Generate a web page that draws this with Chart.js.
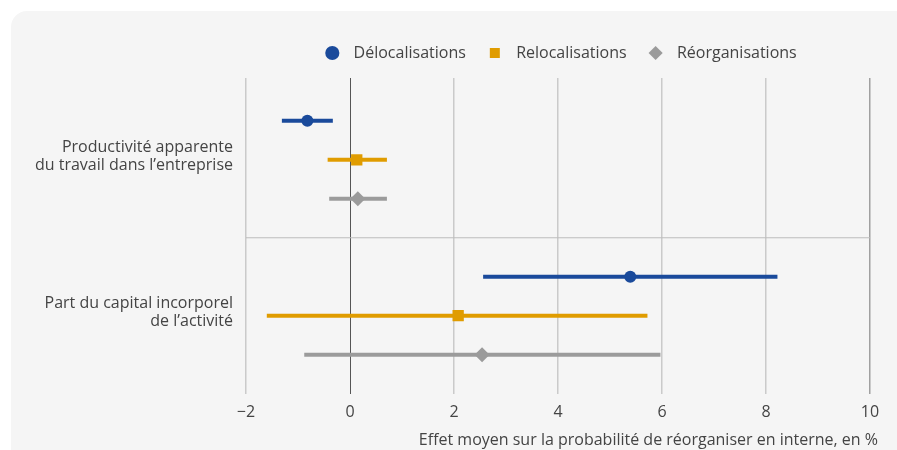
<!DOCTYPE html>
<html>
<head>
  <meta charset="utf-8" />
  <script src="https://cdn.jsdelivr.net/npm/chart.js@4.4.1/dist/chart.umd.min.js"></script>
  <style>
    html, body { margin:0; padding:0; background:#fff; overflow:hidden; }
    #panel { position:absolute; left:11px; top:11px; width:906px; height:460px; background:#f5f5f5; border-radius:16px; }
    #holder { position:absolute; left:0; top:0; width:897px; height:450px; }
  </style>
</head>
<body>
<div id="panel"></div>
<div id="holder"><canvas id="chart"></canvas></div>

<script>
// categories (y axis) and series
const categories = [
  ["Productivité apparente", "du travail dans l’entreprise"],
  ["Part du capital incorporel", "de l’activité"]
];
const seriesNames = ["Délocalisations", "Relocalisations", "Réorganisations"];

// point estimates and interval bounds, one value per category
const delocEst = [-0.82, 5.39];
const delocLow = [-1.31, 2.56];
const delocHigh = [-0.33, 8.22];

const relocEst = [0.13, 2.08];
const relocLow = [-0.43, -1.60];
const relocHigh = [0.71, 5.72];

const reorgEst = [0.15, 2.54];
const reorgLow = [-0.40, -0.88];
const reorgHigh = [0.71, 5.97];

const xTicks = [-2, 0, 2, 4, 6, 8, 10];

const TEXT = "#444";
const FONT = "'Open Sans', sans-serif";
const colors = ["#1a4a9b", "#e09c00", "#9b9b9b"];
const styles = ["circle", "rect", "rectRot"];
const radii = [6, 8, 7.5];

const est = [delocEst, relocEst, reorgEst];
const low = [delocLow, relocLow, reorgLow];
const high = [delocHigh, relocHigh, reorgHigh];

// row of a series inside a category block (blocks of 4 rows)
function rowOf(c, s) { return c * 4 + 1 + s; }

const datasets = [];
seriesNames.forEach((name, s) => {
  datasets.push({
    type: "scatter", label: name,
    data: categories.map((_, c) => ({ x: est[s][c], y: rowOf(c, s) })),
    pointStyle: styles[s], pointRadius: radii[s], pointHoverRadius: radii[s],
    backgroundColor: colors[s], borderColor: colors[s], borderWidth: 0
  });
});
seriesNames.forEach((name, s) => {
  categories.forEach((_, c) => {
    datasets.push({
      type: "line", label: "ci", showLine: true,
      data: [{ x: low[s][c], y: rowOf(c, s) }, { x: high[s][c], y: rowOf(c, s) }],
      borderColor: colors[s], borderWidth: 4, pointRadius: 0, borderCapStyle: "butt"
    });
  });
});
// separator between the two blocks
datasets.push({
  type: "line", label: "sep", showLine: true,
  data: [{ x: xTicks[0], y: 4 }, { x: xTicks[xTicks.length - 1], y: 4 }],
  borderColor: "#bdbdbd", borderWidth: 1.2, pointRadius: 0
});

function gridColor(ctx) {
  const v = ctx.tick && ctx.tick.value;
  if (v === 0) return "#555";
  if (v === 10) return "#a0a0a0";
  return "#cacaca";
}

new Chart(document.getElementById("chart"), {
  type: "scatter",
  data: { datasets },
  options: {
    responsive: true, maintainAspectRatio: false, animation: false,
    layout: { padding: { top: 21, right: 19, left: 0, bottom: 0 } },
    plugins: {
      tooltip: { enabled: false },
      legend: {
        position: "top", fullSize: false,
        labels: {
          usePointStyle: true, boxWidth: 10, boxHeight: 10, padding: 24,
          color: TEXT, font: { family: FONT, size: 16 },
          generateLabels: chart => seriesNames.map((n, s) => ({
            text: "  " + n, pointStyle: styles[s], fillStyle: colors[s],
            strokeStyle: colors[s], lineWidth: 0, datasetIndex: s, fontColor: TEXT
          }))
        }
      }
    },
    scales: {
      x: {
        type: "linear", min: -2, max: 10 + 8 / 52,
        afterBuildTicks: sc => { sc.ticks = xTicks.map(v => ({ value: v })); },
        grid: { color: gridColor, lineWidth: c => (c.tick && c.tick.value === 0 ? 1 : 1.5), drawTicks: false },
        border: { display: false },
        ticks: {
          color: TEXT, font: { family: FONT, size: 16 }, padding: 9,
          callback: v => (v < 0 ? "\u2212" + Math.abs(v) : String(v))
        },
        title: {
          display: true, align: "end",
          text: "Effet moyen sur la probabilité de réorganiser en interne, en %",
          color: TEXT, font: { family: FONT, size: 16 }, padding: { top: 0, bottom: 0 }
        }
      },
      x2: {
        type: "linear", position: "top", display: true, min: 0, max: 1,
        grid: { display: false }, ticks: { display: false }, border: { display: false },
        afterFit: sc => { sc.height = 7; }
      },
      y: {
        type: "linear", reverse: true, min: -0.1, max: 8,
        afterBuildTicks: sc => { sc.ticks = categories.map((_, c) => ({ value: c * 4 + 1.92 })); },
        afterFit: sc => { sc.width = 246; },
        grid: { display: false, drawTicks: false },
        border: { display: false },
        ticks: {
          color: TEXT, font: { family: FONT, size: 16, lineHeight: 1.12 }, padding: 13,
          callback: v => categories[Math.round((v - 1.92) / 4)]
        }
      }
    }
  }
});
</script>
</body>
</html>
